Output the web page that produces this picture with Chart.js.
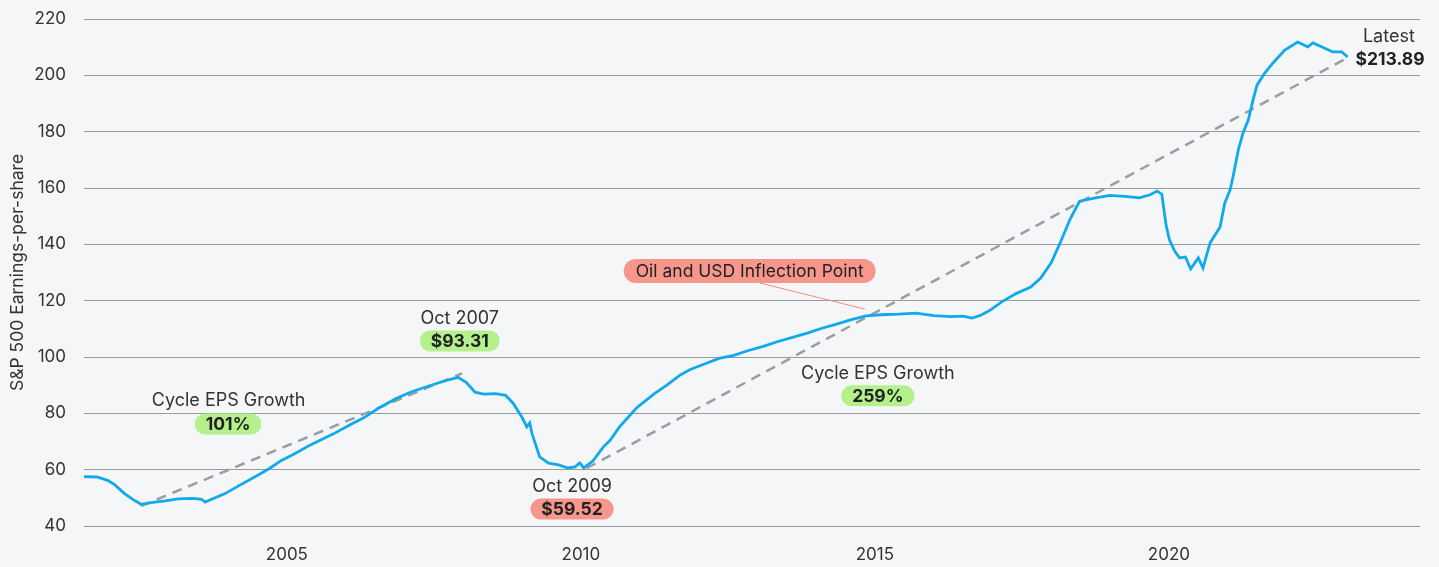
<!DOCTYPE html>
<html>
<head>
<meta charset="utf-8">
<script src="https://cdn.jsdelivr.net/npm/chart.js@4"></script>
<style>
  html, body { margin: 0; padding: 0; background: #f5f6f8; }
  #wrap { width: 1439px; height: 567px; }
</style>
</head>
<body>
<div id="wrap"><canvas id="epsChart" width="1439" height="567"></canvas></div>
<script>
// S&P 500 EPS, decimal year / value
const epsDates = [
  2001.55, 2001.77, 2001.95, 2002.07, 2002.24, 2002.40, 2002.52, 2002.72, 2002.93, 2003.15,
  2003.40, 2003.55, 2003.61, 2003.70, 2003.95, 2004.20, 2004.46, 2004.71, 2004.90, 2005.10,
  2005.40, 2005.80, 2006.10, 2006.30, 2006.55, 2006.85, 2007.10, 2007.40, 2007.65, 2007.91,
  2008.05, 2008.20, 2008.35, 2008.55, 2008.72, 2008.85, 2009.00, 2009.08, 2009.13, 2009.17,
  2009.22, 2009.30, 2009.45, 2009.62, 2009.78, 2009.90, 2009.98, 2010.05, 2010.20, 2010.38,
  2010.50, 2010.65, 2010.80, 2010.95, 2011.10, 2011.25, 2011.45, 2011.68, 2011.85, 2012.10,
  2012.35, 2012.60, 2012.85, 2013.10, 2013.35, 2013.60, 2013.85, 2014.10, 2014.35, 2014.60,
  2014.85, 2015.10, 2015.40, 2015.70, 2016.00, 2016.30, 2016.50, 2016.65, 2016.80, 2016.95,
  2017.15, 2017.40, 2017.65, 2017.82, 2018.00, 2018.15, 2018.32, 2018.48, 2018.75, 2019.00,
  2019.25, 2019.50, 2019.68, 2019.80, 2019.88, 2019.95, 2020.01, 2020.10, 2020.18, 2020.28,
  2020.37, 2020.50, 2020.58, 2020.70, 2020.82, 2020.87, 2020.95, 2021.04, 2021.09, 2021.18,
  2021.26, 2021.35, 2021.43, 2021.50, 2021.63, 2021.77, 2021.97, 2022.19, 2022.36, 2022.45,
  2022.79, 2022.94, 2023.04
];
const epsValues = [
  57.5, 57.4, 56.2, 54.7, 51.5, 49.2, 47.7, 48.4, 48.9, 49.6,
  49.8, 49.5, 48.5, 49.3, 51.5, 54.5, 57.5, 60.5, 63.2, 65.3,
  68.8, 72.8, 76.2, 78.3, 81.7, 85.2, 87.5, 89.6, 91.3, 92.8,
  91.0, 87.5, 86.8, 87.0, 86.4, 83.5, 78.5, 75.2, 76.6, 72.8,
  69.5, 64.5, 62.3, 61.7, 60.6, 61.0, 62.4, 60.6, 63.0, 68.0,
  70.5, 75.0, 78.5, 82.0, 84.5, 87.0, 89.8, 93.5, 95.5, 97.5,
  99.5, 100.6, 102.3, 103.8, 105.5, 107.0, 108.5, 110.2, 111.7, 113.3,
  114.6, 115.0, 115.2, 115.6, 114.7, 114.3, 114.5, 113.8, 114.8, 116.5,
  119.5, 122.5, 124.8, 128.0, 133.5, 140.5, 149.0, 155.3, 156.5, 157.4,
  157.0, 156.5, 157.6, 158.9, 157.8, 147.0, 141.5, 137.5, 135.2, 135.5,
  131.3, 135.2, 131.6, 140.5, 144.5, 146.2, 154.7, 159.3, 163.9, 173.5,
  179.5, 184.1, 191.2, 196.6, 200.8, 204.4, 209.0, 211.8, 210.1, 211.5,
  208.3, 208.3, 206.5
];

// cycle trend lines (start/end)
const trend1Dates = [2002.52, 2007.98];
const trend1Values = [47.1, 94.2];
const trend2Dates = [2010.10, 2023.04];
const trend2Values = [60.5, 206.3];

const yTicks = [40, 60, 80, 100, 120, 140, 160, 180, 200, 220];
const xTicks = [2005, 2010, 2015, 2020];

// annotations: plain text labels and pills (data coordinates)
const noteTexts = ['Cycle EPS Growth', 'Oct 2007', 'Oct 2009', 'Cycle EPS Growth', 'Latest'];
const noteDates = [2004.01, 2007.94, 2009.85, 2015.05, 2023.74];
const noteValues = [84.4, 113.5, 53.9, 94.0, 213.6];

const pillTexts = ['101%', '$93.31', '$59.52', '259%', 'Oil and USD Inflection Point'];
const pillDates = [2004.0, 2007.94, 2009.85, 2015.05, 2012.87];
const pillValues = [76.2, 105.7, 46.0, 86.2, 130.5];
const pillKinds = ['up', 'up', 'down', 'up', 'event'];

const latestText = '$213.89';
const latestDate = 2023.76;
const latestValue = 205.4;

const pointerDates = [2013.04, 2014.83];
const pointerValues = [126.3, 117.0];

const FONT = 'Inter, "Noto Sans", sans-serif';

function toXY(dates, values) {
  return dates.map(function(d, i) { return { x: d, y: values[i] }; });
}

const annotationPlugin = {
  id: 'notes',
  afterDatasetsDraw: function(chart) {
    const ctx = chart.ctx;
    const xs = chart.scales.x, ys = chart.scales.y;
    ctx.save();
    // pointer line for the inflection point
    ctx.strokeStyle = '#f28a7c';
    ctx.lineWidth = 1;
    ctx.beginPath();
    ctx.moveTo(xs.getPixelForValue(pointerDates[0]), ys.getPixelForValue(pointerValues[0]));
    ctx.lineTo(xs.getPixelForValue(pointerDates[1]), ys.getPixelForValue(pointerValues[1]));
    ctx.stroke();

    ctx.textAlign = 'center';
    ctx.textBaseline = 'middle';
    // pills
    pillTexts.forEach(function(t, i) {
      const cx = xs.getPixelForValue(pillDates[i]);
      const cy = ys.getPixelForValue(pillValues[i]);
      const isEvent = pillKinds[i] === 'event';
      ctx.font = (isEvent ? '400 17.5px ' : '700 17.5px ') + FONT;
      const w = ctx.measureText(t).width + (isEvent ? 24 : 22);
      const h = isEvent ? 24 : 21;
      ctx.fillStyle = pillKinds[i] === 'up' ? '#b4f08b' : '#f7978b';
      ctx.beginPath();
      ctx.roundRect(cx - w / 2, cy - h / 2, w, h, h / 2);
      ctx.fill();
      ctx.fillStyle = '#222';
      ctx.fillText(t, cx, cy + 1);
    });
    // plain text
    ctx.font = '400 18px ' + FONT;
    ctx.fillStyle = '#333';
    noteTexts.forEach(function(t, i) {
      ctx.fillText(t, xs.getPixelForValue(noteDates[i]), ys.getPixelForValue(noteValues[i]));
    });
    ctx.font = '700 17.5px ' + FONT;
    ctx.fillStyle = '#222';
    ctx.fillText(latestText, xs.getPixelForValue(latestDate), ys.getPixelForValue(latestValue));
    ctx.restore();
  }
};

const context = document.getElementById('epsChart').getContext('2d');
const epsChart = new Chart(context, {
  type: 'line',
  data: {
    datasets: [
      {
        label: 'S&P 500 EPS',
        data: toXY(epsDates, epsValues),
        borderColor: '#10a9ea',
        borderWidth: 2.8,
        pointRadius: 0,
        tension: 0,
        order: 1
      },
      {
        label: 'Cycle 1',
        data: toXY(trend1Dates, trend1Values),
        borderColor: '#9a9da2',
        borderWidth: 2.5,
        borderDash: [10, 7],
        pointRadius: 0,
        order: 2
      },
      {
        label: 'Cycle 2',
        data: toXY(trend2Dates, trend2Values),
        borderColor: '#9a9da2',
        borderWidth: 2.5,
        borderDash: [10, 7],
        pointRadius: 0,
        order: 2
      }
    ]
  },
  options: {
    responsive: false,
    animation: false,
    layout: { padding: { top: 19, right: 19, left: 0, bottom: 0 } },
    plugins: {
      legend: { display: false },
      tooltip: { enabled: false }
    },
    scales: {
      x: {
        type: 'linear',
        min: 2001.55,
        max: 2024.27,
        grid: { display: false },
        border: { display: false },
        afterBuildTicks: function(s) { s.ticks = xTicks.map(function(v) { return { value: v }; }); },
        afterFit: function(s) { s.height = 41; s.paddingLeft = 0; s.paddingRight = 0; },
        ticks: {
          color: '#333',
          font: { family: FONT, size: 17 },
          padding: 11,
          maxRotation: 0,
          callback: function(v) { return String(v); }
        }
      },
      y: {
        min: 40,
        max: 220,
        afterBuildTicks: function(s) { s.ticks = yTicks.map(function(v) { return { value: v }; }); },
        afterFit: function(s) { s.width = 84; s.paddingTop = 0; s.paddingBottom = 0; },
        grid: { color: '#9a9a9a', lineWidth: 1, drawTicks: false },
        border: { display: false },
        title: {
          display: true,
          text: 'S&P 500 Earnings-per-share',
          color: '#333',
          font: { family: FONT, size: 17.5 },
          padding: { top: 7, bottom: 0 }
        },
        ticks: {
          color: '#333',
          font: { family: FONT, size: 17 },
          padding: 18
        }
      }
    }
  },
  plugins: [annotationPlugin]
});
</script>
</body>
</html>
